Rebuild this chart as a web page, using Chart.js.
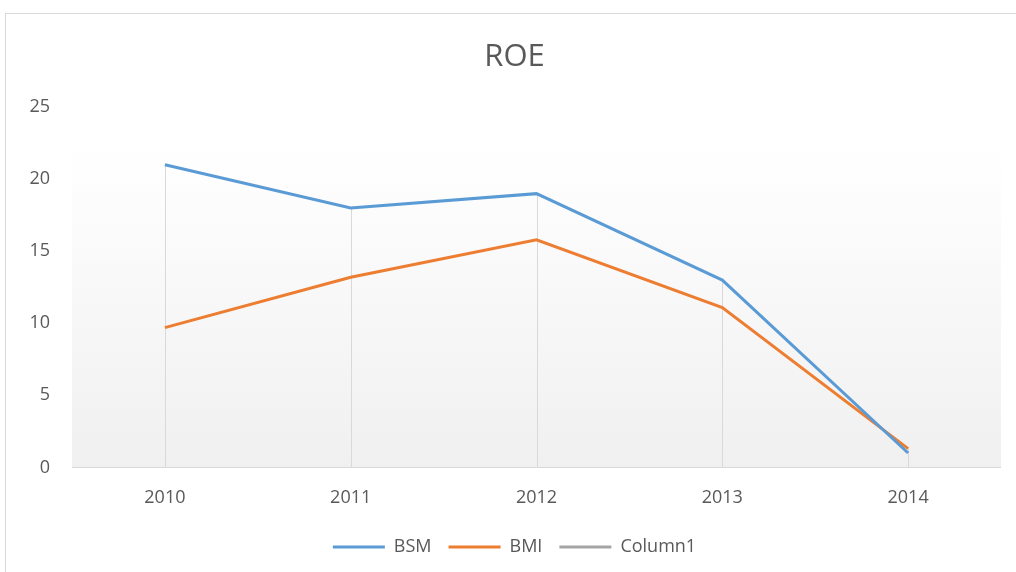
<!DOCTYPE html>
<html>
<head>
<meta charset="utf-8">
<script src="https://cdn.jsdelivr.net/npm/chart.js@4/dist/chart.umd.min.js"></script>
<style>
    html, body { margin: 0; padding: 0; background: #fff; }
    #wrap { position: relative; width: 1016px; height: 572px; overflow: hidden; }
    #frame { position: absolute; left: 5px; top: 13px; width: 1030px; height: 580px; border: 1px solid #d9d9d9; box-sizing: border-box; }
    canvas { position: absolute; left: 0; top: 0; }
</style>
</head>
<body>
<div id="wrap">
    <div id="frame"></div>
    <canvas id="roeChart" width="1016" height="572"></canvas>
</div>
<script>
var years = ['2010', '2011', '2012', '2013', '2014'];
var bsm = [21, 18, 19, 13, 1];
var bmi = [9.7, 13.2, 15.8, 11.1, 1.3];
var column1 = [];
var yTicks = [0, 5, 10, 15, 20, 25];

var textColor = '#595959';
var fontFamily = '"Open Sans", "DejaVu Sans", sans-serif';

// plot area gradient + drop lines + bottom axis line
var plotDecor = {
    id: 'plotDecor',
    beforeDatasetsDraw: function (chart) {
        var ctx = chart.ctx;
        var x = chart.scales.x;
        var y = chart.scales.y;
        var top = 146;
        var bottom = y.getPixelForValue(0);
        ctx.save();
        var grad = ctx.createLinearGradient(0, top, 0, bottom);
        grad.addColorStop(0, '#ffffff');
        grad.addColorStop(1, '#f0f0f0');
        ctx.fillStyle = grad;
        ctx.fillRect(x.left, top, x.right - x.left, bottom - top);

        ctx.strokeStyle = '#d9d9d9';
        ctx.lineWidth = 1;
        years.forEach(function (yr, i) {
            var hi = Math.max(bsm[i], bmi[i]);
            var px = Math.round(x.getPixelForValue(i)) + 0.5;
            ctx.beginPath();
            ctx.moveTo(px, y.getPixelForValue(hi));
            ctx.lineTo(px, bottom);
            ctx.stroke();
        });
        ctx.beginPath();
        ctx.moveTo(x.left, Math.round(bottom) + 0.5);
        ctx.lineTo(x.right, Math.round(bottom) + 0.5);
        ctx.stroke();
        ctx.restore();
    }
};

var ctx = document.getElementById('roeChart').getContext('2d');
var roeChart = new Chart(ctx, {
    type: 'line',
    data: {
        labels: years,
        datasets: [{
            label: 'BSM',
            data: bsm,
            borderColor: '#5b9bd5',
            backgroundColor: '#5b9bd5',
            borderWidth: 3,
            pointRadius: 0,
            tension: 0
        }, {
            label: 'BMI',
            data: bmi,
            borderColor: '#ed7d31',
            backgroundColor: '#ed7d31',
            borderWidth: 3,
            pointRadius: 0,
            tension: 0
        }, {
            label: 'Column1',
            data: column1,
            borderColor: '#a5a5a5',
            backgroundColor: '#a5a5a5',
            borderWidth: 3,
            pointRadius: 0
        }]
    },
    options: {
        responsive: false,
        animation: false,
        layout: { padding: { left: 28, right: 15, top: 10, bottom: 6 } },
        scales: {
            x: {
                offset: true,
                grid: { display: false },
                border: { display: false },
                ticks: { color: textColor, font: { family: fontFamily, size: 18 }, padding: 12 }
            },
            y: {
                min: 0,
                max: 25,
                afterBuildTicks: function (scale) {
                    scale.ticks = yTicks.map(function (v) { return { value: v }; });
                },
                afterFit: function (scale) { scale.width = 44; },
                grid: { display: false, drawTicks: false },
                border: { display: false },
                ticks: { color: textColor, font: { family: fontFamily, size: 18 }, padding: 22 }
            }
        },
        plugins: {
            title: {
                display: true,
                text: 'ROE',
                color: textColor,
                font: { family: fontFamily, size: 31, weight: 'normal' },
                padding: { top: 29, bottom: 31 }
            },
            legend: {
                position: 'bottom',
                labels: {
                    color: textColor,
                    font: { family: fontFamily, size: 18 },
                    boxWidth: 52,
                    boxHeight: 3,
                    padding: 17,
                    generateLabels: function (chart) {
                        return chart.data.datasets.map(function (ds, i) {
                            return {
                                text: ds.label,
                                fillStyle: ds.borderColor,
                                strokeStyle: ds.borderColor,
                                lineWidth: 0,
                                fontColor: textColor,
                                datasetIndex: i
                            };
                        });
                    }
                }
            },
            tooltip: { enabled: false }
        }
    },
    plugins: [plotDecor]
});
</script>
</body>
</html>
